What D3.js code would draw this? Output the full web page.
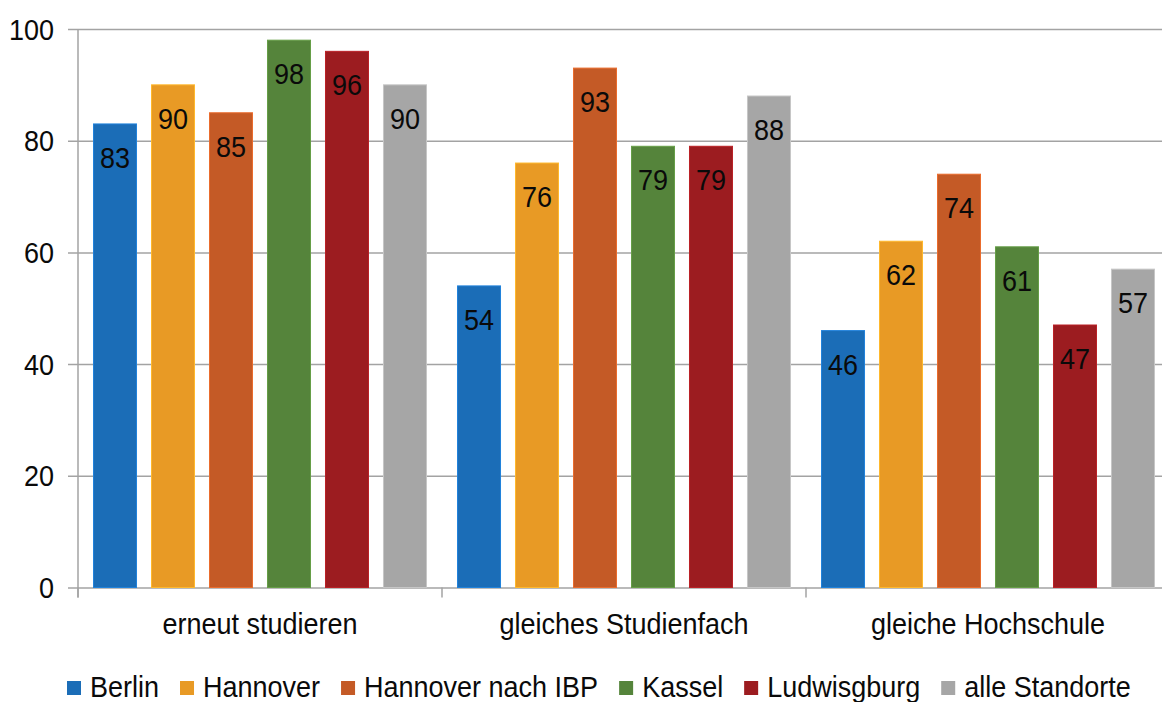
<!DOCTYPE html>
<html>
<head>
<meta charset="utf-8">
<script src="https://cdn.jsdelivr.net/npm/d3@7"></script>
<style>
  html, body { margin: 0; padding: 0; background: #fff; }
  svg { display: block; font-family: "Liberation Sans", Arial, sans-serif; }
</style>
</head>
<body>
<svg id="chart" width="1162" height="702"></svg>
<script>
// Survey questions (x categories)
const categories = ["erneut studieren", "gleiches Studienfach", "gleiche Hochschule"];
// Locations (series)
const series = ["Berlin", "Hannover", "Hannover nach IBP", "Kassel", "Ludwisgburg", "alle Standorte"];
const seriesColors = ["#1B6DB7", "#E89A25", "#C45A26", "#55843B", "#9C1C20", "#A6A6A6"];
// Percentages per location, one entry per category
const berlin      = [83, 54, 46];
const hannover    = [90, 76, 62];
const hannoverIBP = [85, 93, 74];
const kassel      = [98, 79, 61];
const ludwigsburg = [96, 79, 47];
const alle        = [90, 88, 57];
const yTicks = [0, 20, 40, 60, 80, 100];

const values = [berlin, hannover, hannoverIBP, kassel, ludwigsburg, alle];

const svg = d3.select("#chart");
const plot = { left: 78, right: 1170, top: 29, bottom: 587.5 };
const textColor = "#0a0a0a";
const fontSize = 27;
const stretch = 1.07; // text is drawn slightly tall

// Places a text element at (x, baseline y) with a small vertical stretch
function place(sel, fx, fy) {
  sel.attr("x", 0).attr("y", 0)
    .attr("transform", (d, i) => `translate(${fx(d, i)},${fy(d, i)}) scale(1,${stretch})`);
}

const y = d3.scaleLinear().domain([0, 100]).range([plot.bottom, plot.top]);
const x0 = d3.scaleBand().domain(categories).range([plot.left, plot.right]).padding(0);
const x1 = d3.scaleBand().domain(series).range([0, x0.bandwidth()])
  .paddingInner(0.2414).paddingOuter(0.259);
const color = d3.scaleOrdinal().domain(series).range(seriesColors);

const gridColor = "#A3A3A3";

// Horizontal gridlines with outward tick marks
const yAxis = d3.axisLeft(y).tickValues(yTicks).tickSize(10).tickPadding(14).tickFormat(d3.format("d"));
const gy = svg.append("g").attr("transform", `translate(${plot.left},0)`).call(yAxis);
gy.select(".domain").remove();
gy.selectAll(".tick line").attr("stroke", gridColor).attr("stroke-width", 1.5)
  .attr("x1", -10).attr("x2", 1162 - plot.left);
gy.selectAll(".tick text").attr("fill", textColor).attr("font-size", fontSize)
  .attr("font-family", "'Liberation Sans', Arial, sans-serif").attr("dy", null)
  .call(place, () => -24, () => 10);

// Vertical axis line
svg.append("line").attr("x1", plot.left).attr("x2", plot.left)
  .attr("y1", plot.top).attr("y2", plot.bottom + 10)
  .attr("stroke", gridColor).attr("stroke-width", 1.5);

// Category separators below the baseline
const bounds = categories.map(c => x0(c)).concat([plot.right]);
svg.append("g").selectAll("line").data(bounds).join("line")
  .attr("x1", d => d).attr("x2", d => d)
  .attr("y1", plot.bottom).attr("y2", plot.bottom + 10)
  .attr("stroke", gridColor).attr("stroke-width", 1.5);

// Bars
const groups = svg.append("g").selectAll("g").data(categories).join("g")
  .attr("transform", c => `translate(${x0(c)},0)`);

const cells = groups.selectAll("g").data((c, ci) => series.map((s, si) => ({ s, v: values[si][ci] })))
  .join("g");

cells.append("rect")
  .attr("x", d => x1(d.s) + 0.5)
  .attr("y", d => y(d.v))
  .attr("width", x1.bandwidth() - 1)
  .attr("height", d => y(0) - y(d.v))
  .attr("fill", d => color(d.s))
  .attr("stroke", d => d3.color(color(d.s)).brighter(0.5))
  .attr("stroke-width", 1);

cells.append("text")
  .attr("text-anchor", "middle")
  .attr("font-size", fontSize)
  .attr("fill", textColor)
  .text(d => d.v)
  .call(place, d => x1(d.s) + x1.bandwidth() / 2, d => y(d.v) + 44);

// Category labels
svg.append("g").selectAll("text").data(categories).join("text")
  .attr("text-anchor", "middle")
  .attr("font-size", fontSize)
  .attr("fill", textColor)
  .text(c => c)
  .call(place, c => x0(c) + x0.bandwidth() / 2, () => 634);

// Legend
const legend = svg.append("g");
let lx = 67;
series.forEach((s, i) => {
  const item = legend.append("g");
  item.append("rect").attr("x", lx).attr("y", 681).attr("width", 14).attr("height", 14)
    .attr("fill", color(s));
  const t = item.append("text")
    .attr("font-size", fontSize).attr("fill", textColor).text(s)
    .call(place, () => lx + 23, () => 697);
  lx += 23 + t.node().getComputedTextLength() + 21;
});
</script>
</body>
</html>
